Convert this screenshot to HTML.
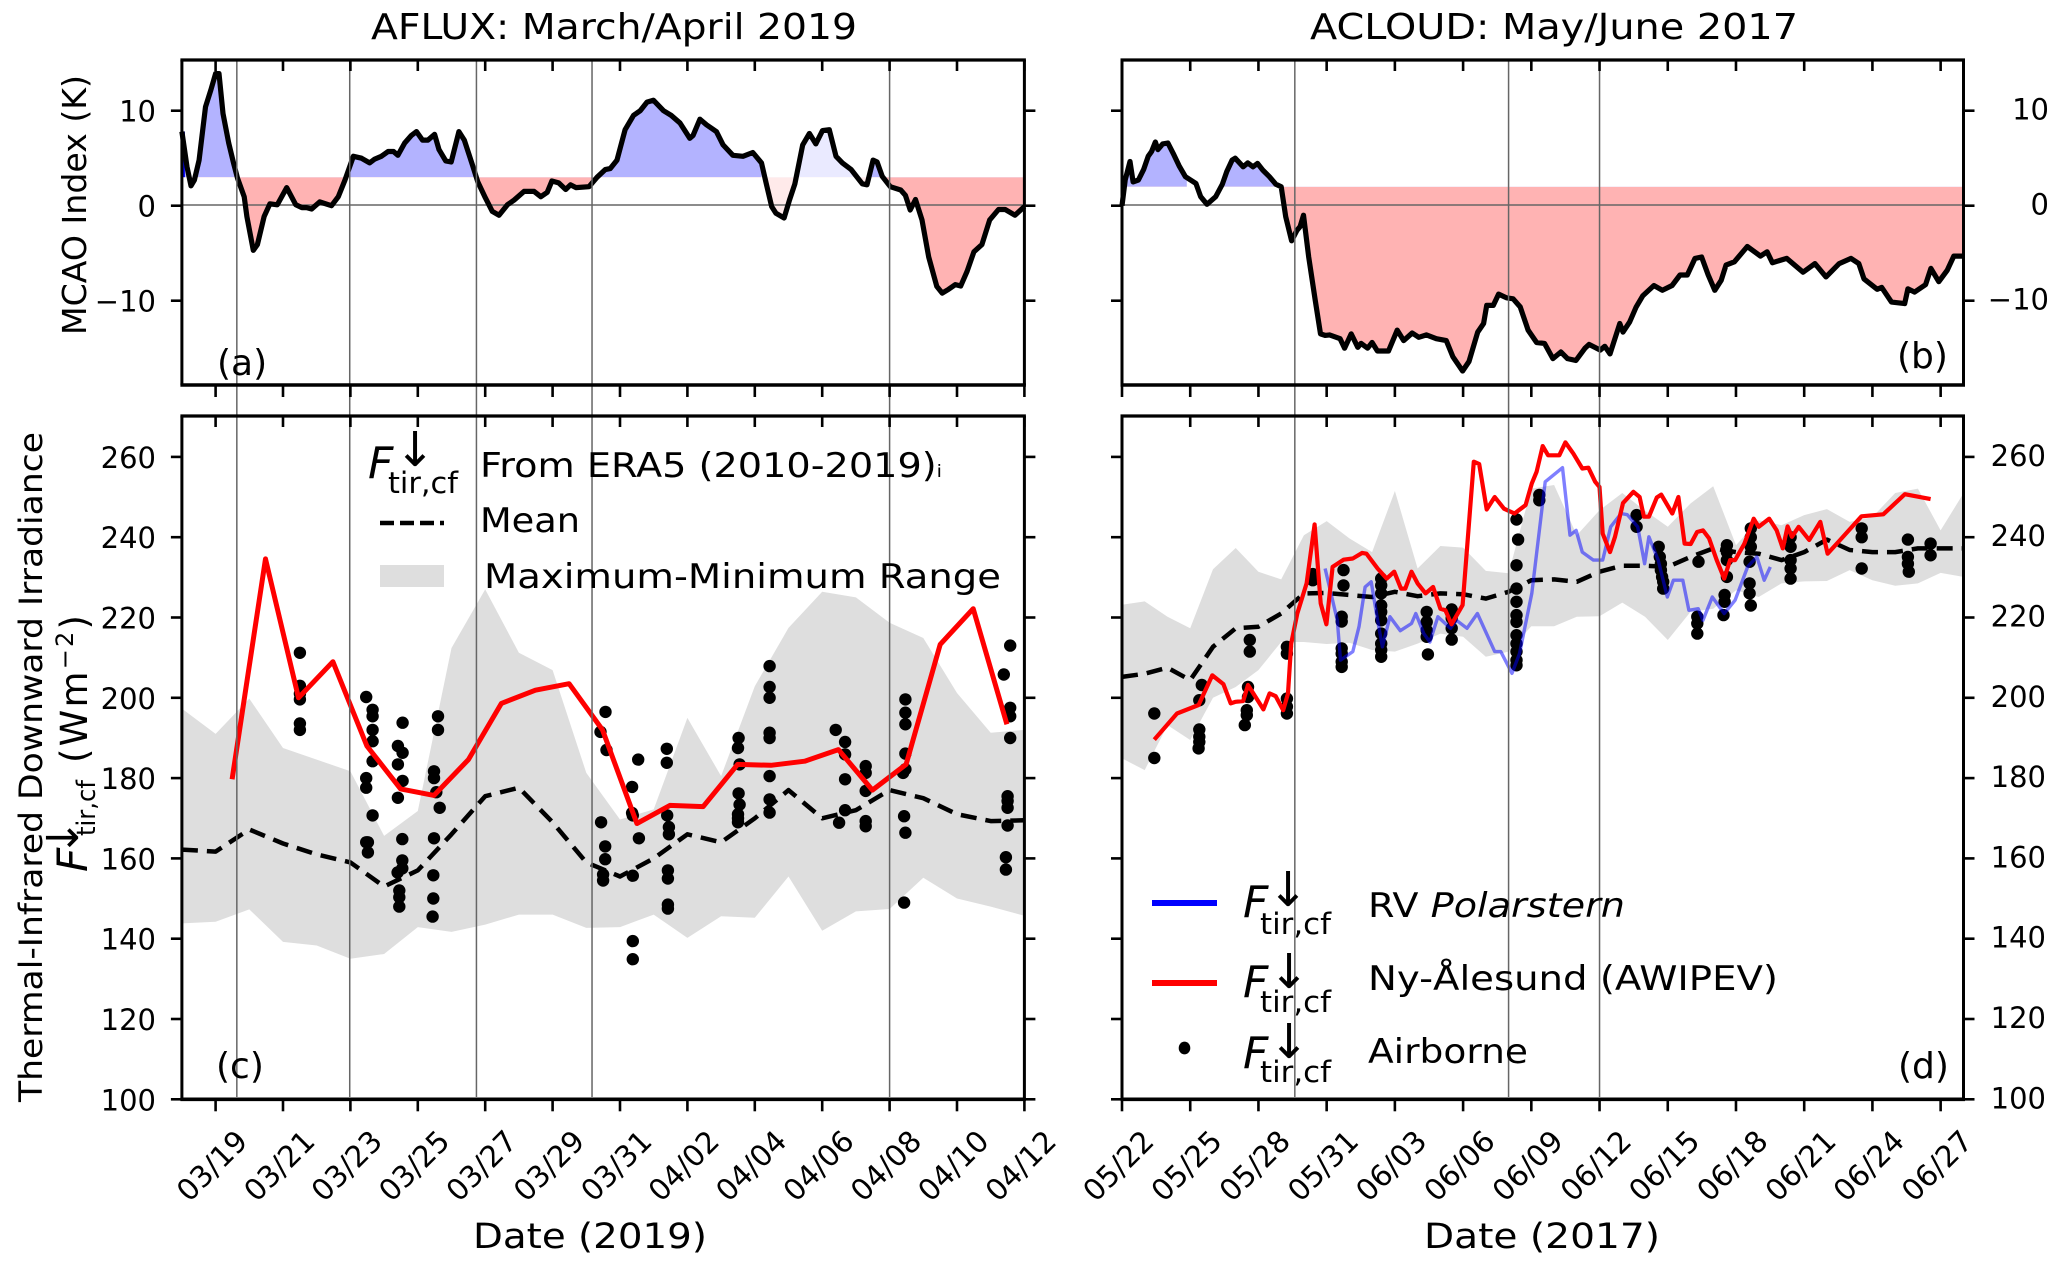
<!DOCTYPE html>
<html lang="en">
<head>
<meta charset="utf-8">
<title>AFLUX and ACLOUD thermal-infrared irradiance</title>
<style>
html,body{margin:0;padding:0;background:#fff;}
svg{display:block;}
text{font-family:"DejaVu Sans","Liberation Sans",sans-serif;fill:#000;}
.it{font-style:italic;}
</style>
</head>
<body>
<svg id="chart" xmlns="http://www.w3.org/2000/svg" width="2067" height="1270" viewBox="0 0 2067 1270">
<defs id="defs"></defs>
<g id="layer-data"></g>
<g id="layer-axes"></g>

<text x="371" y="39" font-size="36" textLength="486" lengthAdjust="spacingAndGlyphs">AFLUX: March/April 2019</text>
<text x="1310" y="39" font-size="36" textLength="488" lengthAdjust="spacingAndGlyphs">ACLOUD: May/June 2017</text>

<text transform="translate(86,335) rotate(-90)" font-size="33" textLength="260" lengthAdjust="spacingAndGlyphs">MCAO Index (K)</text>
<text transform="translate(42,1102) rotate(-90)" font-size="32" textLength="670" lengthAdjust="spacingAndGlyphs">Thermal-Infrared Downward Irradiance</text>
<text transform="translate(87,763) rotate(-90)" font-size="37" textLength="148" lengthAdjust="spacing">(Wm<tspan font-size="24" dy="-14">−2</tspan><tspan dy="14">)</tspan></text>
<text class="it" transform="translate(87,872) rotate(-90)" font-size="42">F</text>
<text transform="translate(95,836) rotate(-90)" font-size="26" textLength="56" lengthAdjust="spacingAndGlyphs">tir,cf</text>
<text transform="translate(78,856) rotate(-90)" font-size="44" text-anchor="start">↓</text>

<text x="473" y="1248" font-size="35" textLength="234" lengthAdjust="spacingAndGlyphs">Date (2019)</text>
<text x="1424" y="1248" font-size="35" textLength="236" lengthAdjust="spacingAndGlyphs">Date (2017)</text>

<text x="217" y="375" font-size="36">(a)</text>
<text x="1897" y="368" font-size="36">(b)</text>
<text x="216" y="1078" font-size="36">(c)</text>
<text x="1898" y="1078" font-size="36">(d)</text>

<g>
  <text class="it" x="368" y="478" font-size="44">F</text>
  <text x="395" y="466" font-size="48">↓</text>
  <text x="388" y="493" font-size="29" textLength="70" lengthAdjust="spacingAndGlyphs">tir,cf</text>
  <text x="480" y="477" font-size="34" textLength="462" lengthAdjust="spacingAndGlyphs">From ERA5 (2010-2019)<tspan font-size="17">i</tspan></text>
  <line x1="380" x2="444" y1="523" y2="523" stroke="#000" stroke-width="4.5" stroke-dasharray="14 6"></line>
  <text x="480" y="532" font-size="34" textLength="100" lengthAdjust="spacingAndGlyphs">Mean</text>
  <rect x="380" y="565" width="64" height="22" fill="#dedede"></rect>
  <text x="484" y="588" font-size="34" textLength="517" lengthAdjust="spacingAndGlyphs">Maximum-Minimum Range</text>
</g>

<g>
  <line x1="1152" x2="1217" y1="903" y2="903" stroke="#0000ff" stroke-width="6"></line>
  <text class="it" x="1243" y="917" font-size="44">F</text>
  <text x="1268" y="906" font-size="48">↓</text>
  <text x="1260" y="934" font-size="29" textLength="71" lengthAdjust="spacingAndGlyphs">tir,cf</text>
  <text x="1368" y="917" font-size="34" textLength="257" lengthAdjust="spacingAndGlyphs">RV <tspan class="it">Polarstern</tspan></text>

  <line x1="1152" x2="1217" y1="983" y2="983" stroke="#ff0000" stroke-width="6"></line>
  <text class="it" x="1243" y="997" font-size="44">F</text>
  <text x="1269" y="988" font-size="48">↓</text>
  <text x="1260" y="1012" font-size="29" textLength="71" lengthAdjust="spacingAndGlyphs">tir,cf</text>
  <text x="1368" y="990" font-size="34" textLength="410" lengthAdjust="spacingAndGlyphs">Ny-Ålesund (AWIPEV)</text>

  <ellipse cx="1184.5" cy="1048" rx="5.8" ry="6.4" fill="#000"></ellipse>
  <text class="it" x="1243" y="1068" font-size="44">F</text>
  <text x="1269" y="1058" font-size="48">↓</text>
  <text x="1260" y="1082" font-size="29" textLength="71" lengthAdjust="spacingAndGlyphs">tir,cf</text>
  <text x="1368" y="1063" font-size="34" textLength="160" lengthAdjust="spacingAndGlyphs">Airborne</text>
</g>
</svg>

<script>
// ---------- Tick labels ----------
const xLabelsAflux = ['03/19','03/21','03/23','03/25','03/27','03/29','03/31','04/02','04/04','04/06','04/08','04/10','04/12'];
const xTickDaysAflux = [0,2,4,6,8,10,12,14,16,18,20,22,24];
const xLabelsAcloud = ['05/22','05/25','05/28','05/31','06/03','06/06','06/09','06/12','06/15','06/18','06/21','06/24','06/27'];
const xTickDaysAcloud = [0,3,6,9,12,15,18,21,24,27,30,33,36];
const yTicksMcao = [10,0,-10];
const yTicksFlux = [260,240,220,200,180,160,140,120,100];

// ---------- Event markers (days since first tick) ----------
const eventDaysAflux = [0.63,3.98,7.74,11.17,20.0];
const eventDaysAcloud = [7.6,17.0,21.0];

// ---------- MCAO thresholds ----------
const thresholdAflux = 3;
const thresholdAcloud = 2;
const paleStartAflux = [16.2];
const paleEndAflux = [19.3];
const hiddenStartAcloud = [2.85];
const hiddenEndAcloud = [4.42];

// ---------- Panel (a) MCAO index, AFLUX ----------
const mcaoDaysA = [-1,-0.85,-0.73,-0.63,-0.49,-0.3,-0.14,0,0.1,0.22,0.39,0.53,0.65,0.85,0.93,1.12,1.24,1.44,1.61,1.83,2.11,2.38,2.56,2.7,2.85,3.09,3.44,3.64,3.84,4.09,4.33,4.57,4.72,4.92,5.12,5.28,5.41,5.61,5.81,5.96,6.14,6.3,6.5,6.63,6.83,6.99,7.22,7.38,7.62,7.78,8.01,8.21,8.41,8.66,8.86,9.15,9.45,9.65,9.84,9.98,10.18,10.39,10.53,10.69,11.08,11.32,11.56,11.71,11.91,12.15,12.4,12.6,12.8,12.99,13.29,13.52,13.78,14.07,14.17,14.37,14.57,14.86,15.06,15.35,15.65,15.94,16.2,16.34,16.5,16.63,16.87,17.03,17.19,17.42,17.62,17.81,18.01,18.21,18.41,18.6,18.86,19.19,19.33,19.51,19.63,19.78,20.02,20.33,20.47,20.61,20.77,20.96,21.16,21.4,21.56,21.75,21.95,22.11,22.3,22.5,22.74,22.97,23.23,23.43,23.72,24];
const mcaoValuesA = [7.8,4.1,2.1,2.7,4.8,10.4,12.2,13.9,13.9,9.7,6.6,4.5,2.9,0.95,-1.15,-4.7,-4.1,-1.15,0.2,0.1,1.9,0.1,-0.2,-0.2,-0.35,0.4,0,0.95,2.7,5.2,5,4.5,4.9,5.2,5.7,5.7,5.3,6.6,7.4,7.8,6.9,6.9,7.5,5.9,4.7,4.6,7.8,6.9,4.3,2.5,0.8,-0.6,-1,0.1,0.6,1.5,1.5,0.95,1.4,2.6,2.4,1.7,2.2,1.9,2,3,3.8,3.9,4.8,8,9.5,10,10.9,11.1,10,9.5,8.7,7.1,7.4,9.1,8.5,7.8,6.4,5.3,5.2,5.6,4.5,2.3,-0.1,-0.8,-1.3,0.6,2.3,6.4,7.6,6.5,7.9,8,5.2,4.5,3.8,2.3,2.2,4.8,4.6,3.1,2,1.65,1.1,-0.45,0.65,-1.5,-5.4,-8.5,-9.2,-8.8,-8.3,-8.45,-6.9,-4.85,-4.1,-1.5,-0.4,-0.4,-1,-0.1];

// ---------- Panel (b) MCAO index, ACLOUD ----------
const mcaoDaysB = [0,0.14,0.35,0.49,0.72,0.95,1.15,1.3,1.47,1.58,1.79,2.02,2.25,2.51,2.79,3.25,3.46,3.74,4.12,4.41,4.61,4.84,4.98,5.33,5.53,5.76,5.96,6.19,6.48,6.77,7,7.2,7.46,7.69,7.83,7.98,8.21,8.5,8.73,8.93,9.13,9.59,9.79,10.08,10.37,10.51,10.8,11,11.23,11.72,12.1,12.39,12.76,13.05,13.39,13.82,14.26,14.55,14.98,15.26,15.64,15.9,16.04,16.33,16.56,16.91,17.2,17.51,17.86,18.23,18.58,18.95,19.3,19.59,19.96,20.36,20.54,21.03,21.23,21.46,21.89,22.03,22.32,22.61,22.9,23.39,23.76,24.19,24.54,24.86,25.2,25.49,25.78,26.07,26.35,26.56,26.93,27.5,28.08,28.37,28.6,29.23,29.95,30.47,30.96,31.54,32.06,32.4,32.63,33.21,33.41,33.84,34.42,34.56,34.85,35.34,35.57,35.92,36.29,36.58,36.95];
const mcaoValuesB = [0,2.7,4.65,2.5,2.7,3.8,5.2,5.7,6.7,5.9,6.5,6.6,5.5,4.2,3.05,2.35,0.95,0.15,0.95,2.25,3.6,4.8,5,4.1,4.5,4.1,4.45,3.75,3.05,2.25,2,-1.15,-3.7,-2.6,-2.2,-1,-5.4,-10,-13.5,-13.65,-13.6,-14,-15,-13.5,-14.9,-14.5,-15,-14.4,-15.3,-15.3,-13.1,-14.2,-13.4,-13.85,-13.6,-14,-14.2,-15.9,-17.4,-16.4,-13.3,-12.4,-10.5,-10.5,-9.3,-9.7,-9.8,-10.65,-13.1,-14.4,-14.5,-16.1,-15.4,-16.1,-16.3,-15,-14.6,-15.2,-14.8,-15.6,-12.4,-13.3,-12.25,-10.65,-9.5,-8.4,-8.9,-8.4,-7.3,-7.3,-5.55,-5.4,-7.3,-8.9,-7.85,-6.25,-5.9,-4.3,-5.3,-4.85,-6,-5.55,-7,-6.1,-7.5,-6.1,-5.55,-6.1,-7.7,-8.8,-8.6,-10.15,-10.3,-8.75,-9.1,-8.3,-6.6,-8,-6.8,-5.3,-5.3];

// ---------- Panel (c) ERA5 climatology, AFLUX ----------
const climDaysC = [-1,0,1,2,3,4,5,6,7,8,9,10,11,12,13,14,15,16,17,18,19,20,21,22,23,24];
const climMaxC = [197.3,191,199.8,187.5,184.6,181.7,165.6,171.8,212.4,227,211.2,206.9,181.3,169.7,172.2,195,180.5,202.9,217.4,226.4,225,218.7,214.9,201.2,191.3,192];
const climMinC = [143.8,144.2,147.3,139.2,138.3,135,136.2,142.9,141.7,143.5,146,146,142.7,142.9,146,140.2,145.6,145.2,155.5,142,146.8,147.4,155.2,150,148,145.7];
const climMeanC = [162.2,161.7,167.2,163.7,161,159,153,157,166,175.5,177.6,169,159,155.5,160,166,164,170,177,170,172,177,175,171,169.3,169.5];

// ---------- Panel (c) Ny-Alesund line ----------
const redDaysC = [0.49,1.48,2.46,3.48,4.49,5.49,6.48,7.5,8.48,9.49,10.49,11.48,12.5,13.48,14.47,15.49,16.48,17.48,18.48,19.49,20.49,21.5,22.48,23.48];
const redValuesC = [179.7,234.6,200,209,188,177.3,175.7,184.6,198.6,201.9,203.5,192,168.7,173.2,172.9,183.4,183.2,184.2,187.1,177,183.4,213.3,222.2,193.4];

// ---------- Panel (c) airborne samples ----------
const dotDaysC = [2.5,2.5,2.5,2.5,2.5,2.5,
  4.47,4.47,4.47,4.47,4.66,4.66,4.66,4.66,4.66,4.66,4.52,4.52,
  5.55,5.41,5.55,5.41,5.55,5.41,5.54,5.54,5.54,5.4,5.45,5.45,5.45,
  6.6,6.6,6.48,6.48,6.55,6.65,6.48,6.46,6.46,6.44,
  11.57,11.42,11.6,11.44,11.56,11.56,11.5,11.5,
  12.54,12.36,12.36,12.38,12.56,12.38,12.38,12.38,
  13.39,13.39,13.4,13.45,13.45,13.42,13.42,13.42,13.42,
  15.52,15.5,15.55,15.52,15.55,15.5,15.5,15.5,
  16.44,16.44,16.44,16.44,16.44,16.44,16.44,16.44,
  18.4,18.68,18.68,18.68,18.68,18.5,
  19.29,19.29,19.29,19.29,19.29,
  20.47,20.47,20.47,20.47,20.47,20.4,20.43,20.47,20.43,
  23.58,23.39,23.58,23.58,23.58,23.5,23.5,23.5,23.5,23.45,23.45];
const dotValuesC = [211.2,203,201,199.6,193.6,192,
  200.2,180,177.6,164,197,195.4,192,189.2,184.2,170.7,164,161.5,
  193.8,188,186.3,183.4,179.3,175.1,164.8,159.5,157.5,156.5,152,150.3,148,
  195.4,192,181.7,180,176.5,172.6,165,155.8,150,145.5,
  196.5,191.5,187,169,163,159.8,156,154.5,
  184.6,177.8,171.3,170.7,165,155.7,139.4,134.9,
  187.3,183.8,170.7,167.8,166,157,155,148.5,147.5,
  190,187.5,183.4,176.2,173.4,171,170,169,
  207.9,202.7,200,191.3,190,180.5,174.7,171.4,
  192,189,185.9,179.7,172,168.9,
  183,181.3,176.8,169.3,168,
  199.6,196.3,193.4,186.1,182.2,181.3,170.5,166.4,149,
  213,205.8,197.5,195.4,190,175.5,174.3,172.6,168.2,160.3,157.2];

// ---------- Panel (d) ERA5 climatology, ACLOUD ----------
const climDaysD = [0,1,2,3,4,5,6,7,8,9,10,11,12,13,14,15,16,17,18,19,20,21,22,23,24,25,26,27,28,29,30,31,32,33,34,35,36,37];
const climMaxD = [223.2,224,220.2,217.3,232,237.3,231.4,229.5,240.5,244,239.7,236.3,251.5,232.2,237.8,237.4,231.6,231,252.1,253,240.5,246.7,251,246.6,242.6,248.4,252.7,238,244.2,243,245.5,247,243.8,245,251,252.1,241.7,250.9];
const climMinD = [184.9,182,193.2,189.5,200,202.7,206.9,213.9,213.9,213.4,213.7,211.9,211.5,213.5,216,215.2,210.2,211.5,217.8,217.8,220.2,220.3,223.7,220.2,214.4,221.4,222.2,226.8,225.1,228.5,229,229.1,231.8,229.3,227.9,228.5,231.1,230.1];
const climMeanD = [205.2,206,207.5,204.4,212.7,217.3,217.7,221,226,226.1,225.6,225.1,226.4,225.3,226,225.8,224.7,226.4,229.3,229.5,228.9,231.4,232.9,232.9,232.6,235.1,237.2,236.3,235.9,234.3,236.3,239.4,236.8,236.3,236.3,237.2,237.2,237.2];

// ---------- Panel (d) Ny-Alesund line ----------
const redDaysD = [1.42,2.42,3.37,3.97,4.46,4.78,5,5.33,5.54,6.22,6.49,6.76,7.09,7.3,7.44,7.71,8.12,8.47,8.74,8.99,9.26,9.74,10.15,10.56,10.75,11.24,11.64,11.97,12.27,12.46,12.73,13,13.35,13.68,14,14.22,14.49,14.98,15.47,15.71,16.04,16.39,16.8,17.26,17.75,18.02,18.23,18.5,18.74,19.23,19.5,19.85,20.24,20.51,20.81,21,21.14,21.46,21.68,22.03,22.49,22.76,22.95,23.17,23.52,23.71,24.2,24.47,24.74,25.01,25.29,25.55,25.82,26.15,26.48,26.74,26.96,27.37,27.78,28,28.46,28.79,29.06,29.27,29.46,29.76,30.22,30.71,31.03,31.58,32.52,33.48,34.43,35.56];
const redValuesD = [189.6,196.1,198.2,205.6,203.4,198.6,199,199.2,203.2,197.1,201.1,200.4,196.9,201.1,213.5,221,228.5,243.2,223.5,218.3,232.6,234.4,234.7,236.1,235.9,232.2,229.7,231.4,227.2,227.2,231.4,228.5,226,227.6,222.2,221.8,218.3,223.1,258.8,258.2,246.9,250,247.1,245.9,248,253.4,256.3,262.7,260.4,260.4,263.6,260.8,257.1,257.3,253.8,252.5,240.9,236.3,240.1,248.5,251.3,250,245.1,245.1,249.9,250.6,245.9,250,238.4,238.3,241.3,241.7,239.7,234.3,229.7,234.3,234.3,238.4,244.6,242.6,244.6,241.7,237.2,242.7,240.1,242.6,239.3,243.8,235.9,239.3,245.2,245.7,250.7,249.5];

// ---------- Panel (d) Polarstern line ----------
const blueDaysD = [8.93,9.47,9.61,10.15,10.42,10.69,10.96,11.24,11.45,11.78,12.24,12.73,12.92,13.27,13.54,13.89,14.44,14.71,15.17,15.63,16.39,16.66,17.15,17.48,18.02,18.61,19.37,19.7,19.97,20.24,20.73,21.14,21.49,21.95,22.22,22.68,22.98,23.17,23.58,23.98,24.25,24.66,24.93,25.34,25.55,25.96,26.48,26.96,27.51,27.92,28.24,28.51];
const blueValuesD = [232.2,219.3,209.4,211.5,217.7,227.6,228.9,219.3,212.7,220.2,216.7,218.5,221,216,213.9,220.2,217.3,219.3,217.3,221,211.5,211.5,206.1,211,226,253.8,257.3,240.5,241.7,236.3,234.3,234.3,242.6,245.9,245.6,242.6,233.4,240.1,234.3,225.1,229.3,229.3,221.8,222.2,219.3,225.1,221,224.3,232.6,235.1,229.3,232.6];

// ---------- Panel (d) airborne samples ----------
const dotDaysD = [1.42,1.42,
  3.51,3.4,3.4,3.4,3.4,3.37,
  5.62,5.62,5.54,5.54,5.49,5.49,5.4,
  7.25,7.25,7.25,7.25,7.25,
  8.39,8.39,
  9.74,9.74,9.66,9.66,9.66,9.66,9.66,9.66,
  11.4,11.4,11.4,11.4,11.4,11.4,11.4,11.4,11.4,11.4,
  13.4,13.4,13.4,13.4,13.45,
  14.5,14.5,14.5,14.5,
  17.35,17.42,17.35,17.35,17.35,17.35,17.35,17.35,17.35,17.35,17.35,17.35,
  18.35,18.35,
  22.63,22.63,
  23.6,23.65,23.7,23.7,23.75,23.8,23.8,
  25.35,25.3,25.3,25.3,
  26.6,26.6,26.6,26.6,26.5,26.5,26.45,
  27.65,27.65,27.65,27.6,27.6,27.6,27.65,
  29.4,29.4,29.4,29.4,29.4,
  32.53,32.53,32.53,
  34.56,34.56,34.56,34.6,
  35.56,35.56];
const dotValuesD = [196.1,185,
  203.2,199.4,192.1,190.3,189,187.4,
  214.4,211.5,202.7,200.2,196.9,195.7,193.2,
  212.7,211,199.8,197.8,196.1,
  230.8,229.3,
  231.8,228,220.2,219,212.3,211,209,207.7,
  229.7,228,226,223,221.4,219.3,216,213.5,211.9,210.2,
  221.4,218.9,216.8,215.2,210.8,
  222,219.8,217.3,214.5,
  244.4,239.4,233,227.2,223.9,220.6,218.9,215.6,213.5,211.5,209.4,208.1,
  250.5,249.2,
  245.5,242.6,
  237.6,235.1,233.4,231.8,230.1,228.9,227.2,
  233.9,220.2,218.5,216,
  238,236.3,234.3,230.1,225.6,223.9,220.6,
  242.2,240,237.6,233.9,228.5,226,223,
  240,237.6,234.3,232.2,229.7,
  242.2,240,232.2,
  239.4,235.1,233.4,231.4,
  238.4,235.5];

// ---------- Axis functions ----------
const frameLeft = {x0:181.9, x1:1024.4};
const frameRight = {x0:1122, x1:1963.5};
const frameTop = {y0:60, y1:385};
const frameBottom = {y0:416, y1:1099.3};
const xA = d => 215.6 + 33.7 * d;
const xB = d => 1122 + 22.74 * d;
const yK = v => 205.7 - 9.5 * v;
const yF = v => 1099.3 - (v - 100) * 4.015;

const NS = 'http://www.w3.org/2000/svg';
const dataLayer = document.getElementById('layer-data');
const axesLayer = document.getElementById('layer-axes');
const defs = document.getElementById('defs');

function mk(tag, parent, props) {
  const el = document.createElementNS(NS, tag);
  for (const k in props) el.setAttribute(k, props[k]);
  parent.appendChild(el);
  return el;
}
function pts(xs, ys, fx, fy) {
  return xs.map((x, i) => fx(x).toFixed(1) + ',' + fy(ys[i]).toFixed(1)).join(' ');
}
function clip(id, x, y, w, h) {
  const c = mk('clipPath', defs, {id: id});
  mk('rect', c, {x: x, y: y, width: w, height: h});
}

// ---------- MCAO panel ----------
function drawMcao(prefix, days, vals, thr, fx, frame, paleS, paleE, paleOp) {
  const first = fx(days[0]), last = fx(days[days.length - 1]);
  const poly = pts(days, vals, fx, yK) + ' ' + last.toFixed(1) + ',' + yK(thr).toFixed(1) + ' ' + first.toFixed(1) + ',' + yK(thr).toFixed(1);
  clip(prefix + '-above', frame.x0, frameTop.y0, frame.x1 - frame.x0, yK(thr) - frameTop.y0);
  clip(prefix + '-below', frame.x0, yK(thr), frame.x1 - frame.x0, frameTop.y1 - yK(thr));

  const blue = mk('polygon', dataLayer, {points: poly, fill: '#b3b3ff', 'clip-path': 'url(#' + prefix + '-above)'});
  
  

  const red = mk('polygon', dataLayer, {points: poly, fill: '#ffb3b3', 'clip-path': 'url(#' + prefix + '-below)'});
  
  

  paleS.forEach((s, i) => {
    const pale = mk('rect', dataLayer, {x: fx(s), y: frameTop.y0, width: fx(paleE[i]) - fx(s), height: frameTop.y1 - frameTop.y0, fill: '#fff', opacity: paleOp});
    
    
  });

  if (vals[0] > thr) {
    const edge = mk('line', dataLayer, {x1: first + 2, x2: first + 2, y1: yK(vals[0]), y2: yK(thr), stroke: '#0000ff', 'stroke-width': 2});
    
    
  }

  const zero = mk('line', dataLayer, {x1: frame.x0, x2: frame.x1, y1: yK(0) - 0.7, y2: yK(0) - 0.7, stroke: '#666', 'stroke-width': 1.6});
  
  

  const line = mk('polyline', dataLayer, {points: pts(days, vals, fx, yK), fill: 'none', stroke: '#000', 'stroke-width': 5.2, 'stroke-linejoin': 'round'});
  
  
}

// ---------- Flux panel ----------
function drawRange(prefix, days, hi, lo, fx) {
  const back = days.slice().reverse();
  const lowBack = lo.slice().reverse();
  const area = mk('polygon', dataLayer, {points: pts(days, hi, fx, yF) + ' ' + pts(back, lowBack, fx, yF), fill: '#dedede'});
  
  
}
function drawDots(prefix, days, vals, fx) {
  const g = mk('g', dataLayer, {});
  
  
  days.forEach((d, i) => {
    const c = mk('circle', g, {cx: fx(d).toFixed(1), cy: yF(vals[i]).toFixed(1), r: 6.2, fill: '#000'});
    
    
  });
}
function drawLine(name, days, vals, fx, color, width, extra) {
  const l = mk('polyline', dataLayer, Object.assign({points: pts(days, vals, fx, yF), fill: 'none', stroke: color, 'stroke-width': width, 'stroke-linejoin': 'round'}, extra || {}));
  
  
}

// ---------- Axes ----------
function drawFrame(prefix, frame, vRange, fx, xTickDays) {
  const g = mk('g', axesLayer, {});
  
  
  const s = {stroke: '#000', fill: 'none'};
  mk('line', g, Object.assign({x1: frame.x0 - 1.5, x2: frame.x1 + 1.5, y1: vRange.y0, y2: vRange.y0, 'stroke-width': 3.2}, s));
  mk('line', g, Object.assign({x1: frame.x0 - 1.5, x2: frame.x1 + 1.5, y1: vRange.y1, y2: vRange.y1, 'stroke-width': 3.6}, s));
  mk('line', g, Object.assign({x1: frame.x0, x2: frame.x0, y1: vRange.y0, y2: vRange.y1, 'stroke-width': 3}, s));
  mk('line', g, Object.assign({x1: frame.x1, x2: frame.x1, y1: vRange.y0, y2: vRange.y1, 'stroke-width': 3}, s));
  xTickDays.forEach(d => {
    mk('line', g, Object.assign({x1: fx(d), x2: fx(d), y1: vRange.y0, y2: vRange.y0 + 11, 'stroke-width': 2.6}, s));
    mk('line', g, Object.assign({x1: fx(d), x2: fx(d), y1: vRange.y1, y2: vRange.y1 + 12, 'stroke-width': 2.6}, s));
  });
}
function drawYTicks(prefix, frame, ticks, fy) {
  const g = mk('g', axesLayer, {});
  
  
  ticks.forEach(v => {
    mk('line', g, {x1: frame.x0 - 11, x2: frame.x0, y1: fy(v), y2: fy(v), stroke: '#000', 'stroke-width': 2.6});
    mk('line', g, {x1: frame.x1, x2: frame.x1 + 11, y1: fy(v), y2: fy(v), stroke: '#000', 'stroke-width': 2.6});
  });
}
function drawYLabels(prefix, ticks, fy, x, anchor, offset) {
  ticks.forEach(v => {
    const t = mk('text', axesLayer, {x: x, y: fy(v) + offset, 'font-size': 29, 'text-anchor': anchor});
    
    
    t.textContent = String(v).replace('-', '−');
  });
}
function drawXLabels(prefix, labels, days, fx) {
  labels.forEach((lab, i) => {
    const cx = fx(days[i]) - 3.5;
    const t = mk('text', axesLayer, {transform: 'translate(' + cx.toFixed(1) + ',1166) rotate(-45)', y: 10, 'font-size': 29.5, 'text-anchor': 'middle'});
    
    
    t.textContent = lab;
  });
}
function drawEvents(prefix, days, fx) {
  days.forEach(d => {
    const l = mk('line', axesLayer, {x1: fx(d), x2: fx(d), y1: 60, y2: 1097, stroke: '#666', 'stroke-width': 1.5});
    
    
  });
}

// Draw order
drawMcao('panel-a', mcaoDaysA, mcaoValuesA, thresholdAflux, xA, frameLeft, paleStartAflux, paleEndAflux, 0.72);
drawMcao('panel-b', mcaoDaysB, mcaoValuesB, thresholdAcloud, xB, frameRight, hiddenStartAcloud, hiddenEndAcloud, 1);

drawRange('panel-c', climDaysC, climMaxC, climMinC, xA);
drawRange('panel-d', climDaysD, climMaxD, climMinD, xB);

drawDots('panel-c', dotDaysC, dotValuesC, xA);
drawDots('panel-d', dotDaysD, dotValuesD, xB);

drawLine('panel-c-mean-line', climDaysC, climMeanC, xA, '#000', 4.5, {'stroke-dasharray': '16 9'});
drawLine('panel-d-mean-line', climDaysD, climMeanD, xB, '#000', 4.5, {'stroke-dasharray': '16 9'});

drawLine('panel-d-polarstern-line', blueDaysD, blueValuesD, xB, '#0000ff', 3.4, {'stroke-opacity': 0.5});
drawLine('panel-c-nyalesund-line', redDaysC, redValuesC, xA, '#ff0000', 5);
drawLine('panel-d-nyalesund-line', redDaysD, redValuesD, xB, '#ff0000', 4.2);

drawEvents('left-column', eventDaysAflux, xA);
drawEvents('right-column', eventDaysAcloud, xB);

drawFrame('panel-a', frameLeft, frameTop, xA, xTickDaysAflux);
drawFrame('panel-b', frameRight, frameTop, xB, xTickDaysAcloud);
drawFrame('panel-c', frameLeft, frameBottom, xA, xTickDaysAflux);
drawFrame('panel-d', frameRight, frameBottom, xB, xTickDaysAcloud);

drawYTicks('panel-a', frameLeft, yTicksMcao, yK);
drawYTicks('panel-b', frameRight, yTicksMcao, yK);
drawYTicks('panel-c', frameLeft, yTicksFlux, yF);
drawYTicks('panel-d', frameRight, yTicksFlux, yF);

drawYLabels('panel-a', yTicksMcao, yK, 156, 'end', 11);
drawYLabels('panel-b', yTicksMcao, yK, 2049, 'end', 9);
drawYLabels('panel-c', yTicksFlux, yF, 156, 'end', 11);
drawYLabels('panel-d', yTicksFlux, yF, 2046, 'end', 9);

drawXLabels('panel-c', xLabelsAflux, xTickDaysAflux, xA);
drawXLabels('panel-d', xLabelsAcloud, xTickDaysAcloud, xB);
</script>
</body>
</html>
